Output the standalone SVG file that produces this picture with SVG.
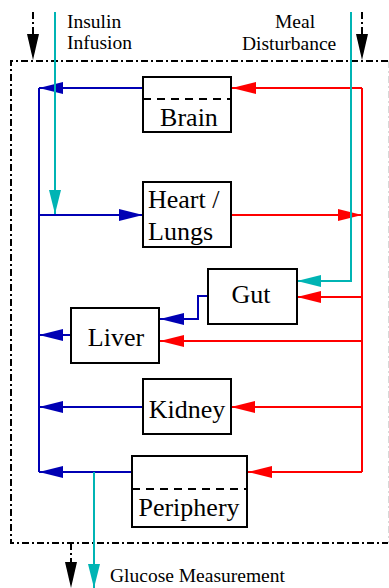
<svg xmlns="http://www.w3.org/2000/svg" width="389" height="588" viewBox="0 0 389 588">
<defs>
<style>
.box{fill:#fff;stroke:#000;stroke-width:2}
.sep{stroke:#000;stroke-width:2;stroke-dasharray:8 6}
text{font-family:'Liberation Serif','DejaVu Serif','Times New Roman',serif;fill:#000}
.lbl{font-size:26px}
.sm{font-size:19.5px}
.blue{fill:none;stroke:#0000b4;stroke-width:2}
.red{fill:none;stroke:#ff0000;stroke-width:2}
.cyan{fill:none;stroke:#00b4b4;stroke-width:2}
.blk{fill:none;stroke:#000;stroke-width:2;stroke-dasharray:7 3 2 3}
.frame{fill:none;stroke:#000;stroke-width:2;stroke-dasharray:7 3 2 3}
</style>
<marker id="mb" markerUnits="userSpaceOnUse" markerWidth="24" markerHeight="12" refX="24" refY="6" orient="auto"><path d="M0,0 L24,6 L0,12 z" fill="#0000b4"/></marker>
<marker id="mr" markerUnits="userSpaceOnUse" markerWidth="24" markerHeight="12" refX="24" refY="6" orient="auto"><path d="M0,0 L24,6 L0,12 z" fill="#ff0000"/></marker>
<marker id="mc" markerUnits="userSpaceOnUse" markerWidth="24" markerHeight="12" refX="24" refY="6" orient="auto"><path d="M0,0 L24,6 L0,12 z" fill="#00b4b4"/></marker>
<marker id="mk" markerUnits="userSpaceOnUse" markerWidth="26" markerHeight="12" refX="26" refY="6" orient="auto"><path d="M0,0 L26,6 L0,12 z" fill="#000"/></marker>
</defs>
<rect width="389" height="588" fill="#fff"/>
<path class="frame" d="M388,61 H11 V543 H388"/>
<line x1="388.5" y1="61" x2="388.5" y2="543" stroke="#d8d8d8" stroke-width="1" stroke-dasharray="7 3 2 3"/>
<g id="labels">
<text class="sm" x="67" y="28">Insulin</text>
<text class="sm" x="67" y="49">Infusion</text>
<text class="sm" x="275" y="28">Meal</text>
<text class="sm" x="242" y="50">Disturbance</text>
<text class="sm" x="110" y="582">Glucose Measurement</text>
</g>
<g id="connectors">
<path class="blue" d="M39,472 V88"/>
<path class="blue" d="M143,88 H39" marker-end="url(#mb)"/>
<path class="blue" d="M39,215 H143" marker-end="url(#mb)"/>
<path class="blue" d="M208,296 H198 V319 H160" marker-end="url(#mb)"/>
<path class="blue" d="M71,335 H39" marker-end="url(#mb)"/>
<path class="blue" d="M143,407 H39" marker-end="url(#mb)"/>
<path class="blue" d="M132,472 H39" marker-end="url(#mb)"/>
<path class="red" d="M362,88 V472"/>
<path class="red" d="M362,88 H232" marker-end="url(#mr)"/>
<path class="red" d="M231,215 H362" marker-end="url(#mr)"/>
<path class="red" d="M362,297 H297" marker-end="url(#mr)"/>
<path class="red" d="M362,341 H160" marker-end="url(#mr)"/>
<path class="red" d="M362,407 H231" marker-end="url(#mr)"/>
<path class="red" d="M362,472 H248" marker-end="url(#mr)"/>
<path class="cyan" d="M55,12 V214" marker-end="url(#mc)"/>
<path class="cyan" d="M351,12 V281 H297" marker-end="url(#mc)"/>
<path class="cyan" d="M94,472 V588" marker-end="url(#mc)"/>
<path class="blk" d="M33,12 V34"/>
<path d="M33,32 V60" stroke="none" fill="none" marker-end="url(#mk)"/>
<path class="blk" d="M362,12 V34"/>
<path d="M362,32 V60" stroke="none" fill="none" marker-end="url(#mk)"/>
<path class="blk" d="M71,543 V564"/>
<path d="M71,562 V588" stroke="none" fill="none" marker-end="url(#mk)"/>
</g>
<g id="brain">
<rect class="box" x="143" y="77" width="88" height="55"/>
<line class="sep" x1="143" y1="99" x2="231" y2="99"/>
<text class="lbl" x="189" y="126" text-anchor="middle">Brain</text>
</g>
<g id="heart-lungs">
<rect class="box" x="143" y="182" width="88" height="65"/>
<text class="lbl" x="148" y="208">Heart /</text>
<text class="lbl" x="148" y="240">Lungs</text>
</g>
<g id="gut">
<rect class="box" x="208" y="269" width="89" height="55"/>
<text class="lbl" x="251" y="303" text-anchor="middle">Gut</text>
</g>
<g id="liver">
<rect class="box" x="71" y="308" width="88" height="55"/>
<text class="lbl" x="116" y="346" text-anchor="middle">Liver</text>
</g>
<g id="kidney">
<rect class="box" x="143" y="379" width="88" height="55"/>
<text class="lbl" x="187" y="418" text-anchor="middle">Kidney</text>
</g>
<g id="periphery">
<rect class="box" x="132" y="456" width="115" height="71"/>
<line class="sep" x1="132" y1="489" x2="247" y2="489"/>
<text class="lbl" x="189" y="516" text-anchor="middle">Periphery</text>
</g>
</svg>
